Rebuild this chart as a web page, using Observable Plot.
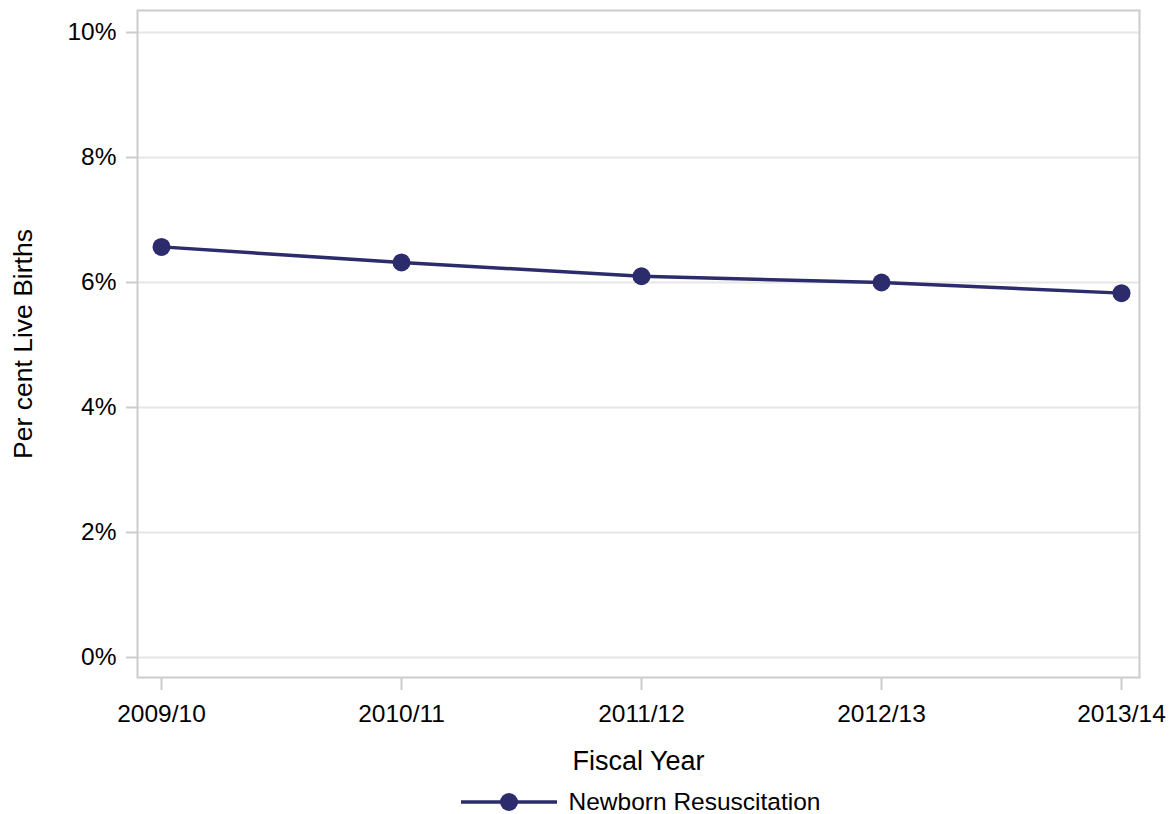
<!DOCTYPE html>
<html><head><meta charset="utf-8">
<script src="https://cdn.jsdelivr.net/npm/d3@7"></script>
<script src="https://cdn.jsdelivr.net/npm/@observablehq/plot@0.6"></script>
<style>
body{margin:0;background:#fff;font-family:"Liberation Sans",Arial,sans-serif;}
#legend{height:34px;margin-top:5px;display:flex;align-items:center;justify-content:center;padding-left:118px;font-size:24.5px;color:#000;}
</style></head>
<body><div id="chart"></div><div id="legend"></div>
<script>
const years = ["2009/10","2010/11","2011/12","2012/13","2013/14"];
const values = [6.57, 6.32, 6.10, 6.00, 5.83];
const yTicks = [0, 2, 4, 6, 8, 10];
const seriesName = "Newborn Resuscitation";
const color = "#2c2b6b";

const data = years.map((y, i) => ({year: y, value: values[i]}));

const chart = Plot.plot({
  width: 1169, height: 780,
  marginTop: 10, marginBottom: 103, marginLeft: 137, marginRight: 30,
  style: {fontFamily: "Liberation Sans, Arial, sans-serif", fontSize: "24px", color: "#000", background: "#fff"},
  x: {type: "point", domain: years, insetLeft: 22, insetRight: 17, padding: 0},
  y: {domain: [0, 10], insetTop: 22, insetBottom: 20},
  marks: [
    Plot.gridY(yTicks, {stroke: "#e6e6e6", strokeOpacity: 1, strokeWidth: 2}),
    Plot.frame({stroke: "#cccccc", strokeWidth: 2}),
    Plot.axisY(yTicks, {tickFormat: d => d + "%", tickSize: 11, tickPadding: 10, stroke: "#cccccc", strokeWidth: 2, fontSize: 24.5, label: null}),
    Plot.axisY({ticks: [], label: "Per cent Live Births", labelAnchor: "center", labelArrow: "none", labelOffset: 124, fontSize: 26.5}),
    Plot.axisX(years, {tickSize: 13, tickPadding: 14, stroke: "#cccccc", strokeWidth: 2, fontSize: 24.5, label: null}),
    Plot.axisX({ticks: [], label: "Fiscal Year", labelAnchor: "center", labelArrow: "none", labelOffset: 92, fontSize: 27}),
    Plot.line(data, {x: "year", y: "value", stroke: color, strokeWidth: 3.5}),
    Plot.dot(data, {x: "year", y: "value", r: 9, fill: color, stroke: "none"})
  ]
});
document.getElementById("chart").appendChild(chart);

const lg = d3.select("#legend");
const sw = lg.append("svg").attr("width", 110).attr("height", 30).style("margin-right", "0px").style("margin-left","-8px");
sw.append("line").attr("x1", 2).attr("x2", 98).attr("y1", 15).attr("y2", 15).attr("stroke", color).attr("stroke-width", 3.5);
sw.append("circle").attr("cx", 50).attr("cy", 15).attr("r", 9).attr("fill", color);
lg.append("span").text(seriesName);
</script></body></html>
